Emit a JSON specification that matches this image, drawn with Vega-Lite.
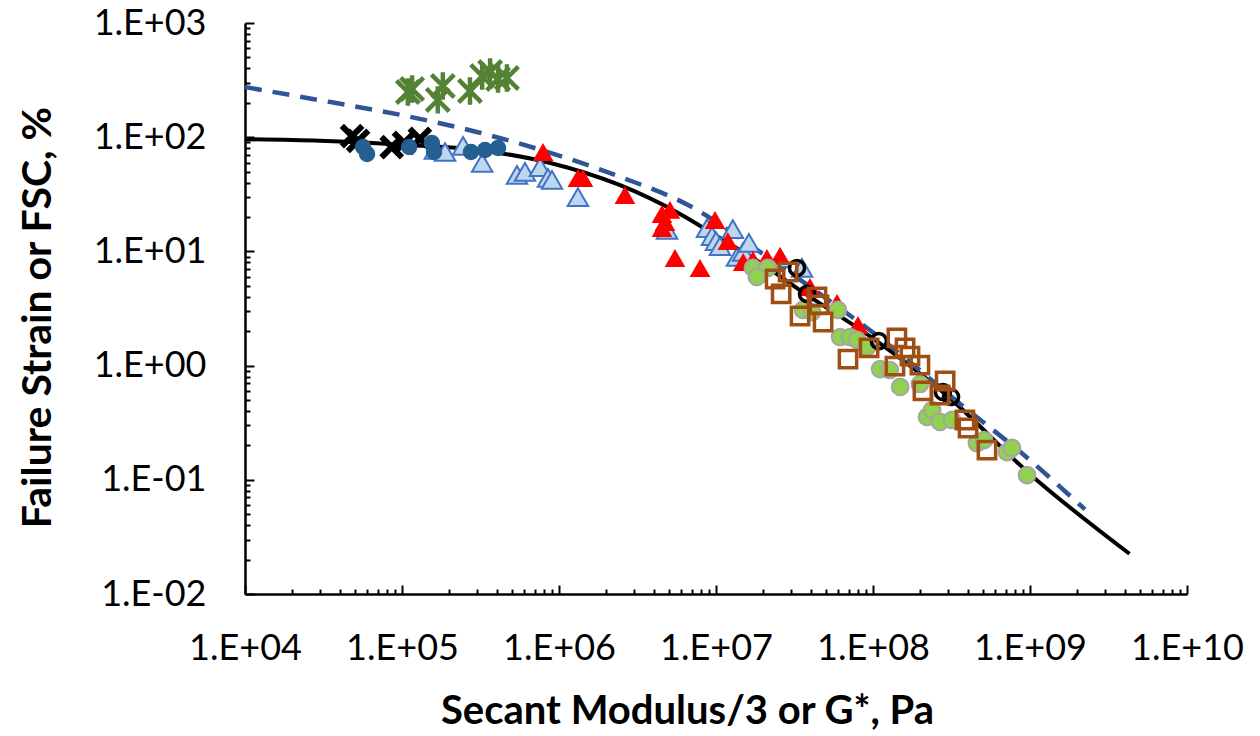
{
  "$schema": "https://vega.github.io/schema/vega-lite/v6.json",
  "width": 942,
  "height": 571,
  "autosize": {"type": "none"},
  "padding": {"left": 245, "top": 23, "right": 73, "bottom": 142},
  "background": "white",
  "config": {"view": {"stroke": null}, "font": "Lato"},
  "datasets": {
    "fit": [
      {"x": 10000, "y": 96}, {"x": 30000, "y": 93}, {"x": 100000, "y": 86}, {"x": 310000, "y": 77},
      {"x": 880000, "y": 59.5}, {"x": 2450000, "y": 38}, {"x": 5900000, "y": 21.3}, {"x": 10600000, "y": 13.1},
      {"x": 19000000, "y": 8.0}, {"x": 34000000, "y": 4.6}, {"x": 103000000, "y": 1.68}, {"x": 290000000, "y": 0.56},
      {"x": 1000000000, "y": 0.112}, {"x": 4300000000, "y": 0.0225}
    ],
    "upper": [
      {"x": 10000, "y": 275}, {"x": 35000, "y": 203}, {"x": 100000, "y": 156}, {"x": 300000, "y": 111},
      {"x": 880000, "y": 73}, {"x": 2450000, "y": 45}, {"x": 7200000, "y": 24}, {"x": 17200000, "y": 10.9},
      {"x": 50000000, "y": 3.9}, {"x": 100000000, "y": 1.95}, {"x": 400000000, "y": 0.41}, {"x": 900000000, "y": 0.168},
      {"x": 2240000000, "y": 0.055}
    ],
    "blackx": [
      {"x": 48100, "y": 102}, {"x": 52500, "y": 92.7}, {"x": 86000, "y": 82}, {"x": 103000, "y": 89}, {"x": 130000, "y": 96.5}
    ],
    "lightblue": [
      {"x": 162000, "y": 77.3}, {"x": 188000, "y": 74.2}, {"x": 245000, "y": 83.8}, {"x": 324000, "y": 59.5},
      {"x": 540000, "y": 46.7}, {"x": 607000, "y": 49.6}, {"x": 757000, "y": 54.8}, {"x": 851000, "y": 44},
      {"x": 902000, "y": 42.2}, {"x": 1320000, "y": 29.9}, {"x": 4880000, "y": 15.4}, {"x": 8770000, "y": 16.0},
      {"x": 9440000, "y": 13.6}, {"x": 10000000, "y": 12.3}, {"x": 10600000, "y": 11.1}, {"x": 12800000, "y": 15.7},
      {"x": 13600000, "y": 8.94}, {"x": 14900000, "y": 9.9}, {"x": 16200000, "y": 11.9}, {"x": 25600000, "y": 8.75},
      {"x": 35300000, "y": 7.16}
    ],
    "darkblue": [
      {"x": 56500, "y": 82}, {"x": 59900, "y": 71.3}, {"x": 111000, "y": 82}, {"x": 155000, "y": 89},
      {"x": 160000, "y": 74.2}, {"x": 275000, "y": 74.2}, {"x": 338000, "y": 77.3}, {"x": 409000, "y": 80.4}
    ],
    "greenstar": [
      {"x": 109000, "y": 249}, {"x": 116000, "y": 264}, {"x": 169000, "y": 212}, {"x": 182000, "y": 281},
      {"x": 271000, "y": 254}, {"x": 324000, "y": 343}, {"x": 364000, "y": 372}, {"x": 409000, "y": 323},
      {"x": 466000, "y": 330}
    ],
    "red": [
      {"x": 791000, "y": 74.2}, {"x": 1320000, "y": 44}, {"x": 1420000, "y": 44}, {"x": 2630000, "y": 31.2},
      {"x": 4530000, "y": 21.3}, {"x": 5090000, "y": 23.1}, {"x": 4730000, "y": 18.1}, {"x": 4530000, "y": 16.0},
      {"x": 5480000, "y": 8.75}, {"x": 7910000, "y": 7.16}, {"x": 9860000, "y": 18.8}, {"x": 11900000, "y": 12.3},
      {"x": 14900000, "y": 8.07}, {"x": 17200000, "y": 8.41}, {"x": 21100000, "y": 8.75}, {"x": 25600000, "y": 9.12},
      {"x": 39700000, "y": 4.88}, {"x": 59000000, "y": 3.53}, {"x": 80200000, "y": 2.27}
    ],
    "greencircle": [
      {"x": 17200000, "y": 7.16}, {"x": 21400000, "y": 7.16}, {"x": 18200000, "y": 5.97}, {"x": 35800000, "y": 3.07},
      {"x": 40900000, "y": 2.94}, {"x": 59800000, "y": 3.07}, {"x": 61700000, "y": 1.78}, {"x": 71400000, "y": 1.78},
      {"x": 79100000, "y": 1.68}, {"x": 91600000, "y": 1.45}, {"x": 111000000, "y": 0.933}, {"x": 128000000, "y": 0.915},
      {"x": 149000000, "y": 0.65}, {"x": 199000000, "y": 0.69}, {"x": 221000000, "y": 0.355}, {"x": 238000000, "y": 0.408},
      {"x": 267000000, "y": 0.321}, {"x": 319000000, "y": 0.334}, {"x": 459000000, "y": 0.21}, {"x": 509000000, "y": 0.223},
      {"x": 714000000, "y": 0.175}, {"x": 768000000, "y": 0.19}, {"x": 957000000, "y": 0.11}
    ],
    "blackcircle": [
      {"x": 32800000, "y": 7.16}, {"x": 38000000, "y": 4.24}, {"x": 109000000, "y": 1.64}, {"x": 279000000, "y": 0.587},
      {"x": 314000000, "y": 0.531}
    ],
    "brownsquare": [
      {"x": 28800000, "y": 6.6}, {"x": 23800000, "y": 5.73}, {"x": 26000000, "y": 4.24}, {"x": 44000000, "y": 3.99},
      {"x": 45300000, "y": 3.4}, {"x": 34300000, "y": 2.72}, {"x": 48100000, "y": 2.41}, {"x": 69300000, "y": 1.14},
      {"x": 94400000, "y": 1.43}, {"x": 142000000, "y": 1.75}, {"x": 160000000, "y": 1.43}, {"x": 172000000, "y": 1.21},
      {"x": 138000000, "y": 0.99}, {"x": 199000000, "y": 1.01}, {"x": 208000000, "y": 0.6}, {"x": 288000000, "y": 0.733},
      {"x": 267000000, "y": 0.553}, {"x": 385000000, "y": 0.334}, {"x": 403000000, "y": 0.284}, {"x": 532000000, "y": 0.182}
    ]
  },
  "encoding": {
    "x": {
      "field": "x", "type": "quantitative",
      "scale": {"type": "log", "domain": [10000, 10000000000], "nice": false},
      "axis": {
        "title": "Secant Modulus/3 or G*, Pa",
        "values": [10000,20000,30000,40000,50000,60000,70000,80000,90000,
                   100000,200000,300000,400000,500000,600000,700000,800000,900000,
                   1000000,2000000,3000000,4000000,5000000,6000000,7000000,8000000,9000000,
                   10000000,20000000,30000000,40000000,50000000,60000000,70000000,80000000,90000000,
                   100000000,200000000,300000000,400000000,500000000,600000000,700000000,800000000,900000000,
                   1000000000,2000000000,3000000000,4000000000,5000000000,6000000000,7000000000,8000000000,9000000000,
                   10000000000],
        "labelExpr": "abs(log(datum.value)/LN10 - round(log(datum.value)/LN10)) < 0.001 ? '1.E' + (round(log(datum.value)/LN10) < 0 ? '-' : '+') + (abs(round(log(datum.value)/LN10)) < 10 ? '0' : '') + abs(round(log(datum.value)/LN10)) : ''",
        "labelFont": "Lato", "labelFontSize": 36, "labelColor": "black",
        "labelPadding": 46, "labelOverlap": false, "labelFlush": false,
        "tickSize": {"condition": {"test": "abs(log(datum.value)/LN10 - round(log(datum.value)/LN10)) < 0.001", "value": -9}, "value": -5},
        "tickColor": "black", "tickWidth": 2,
        "domainColor": "black", "domainWidth": 2.5,
        "grid": false,
        "titleFont": "Lato", "titleFontSize": 40, "titleFontWeight": "bold", "titleColor": "black",
        "titleX": 442, "titleY": 129, "titleBaseline": "alphabetic", "titleAlign": "center"
      }
    },
    "y": {
      "field": "y", "type": "quantitative",
      "scale": {"type": "log", "domain": [0.01, 1000], "nice": false},
      "axis": {
        "title": "Failure Strain or FSC, %",
        "values": [0.01,0.02,0.03,0.04,0.05,0.06,0.07,0.08,0.09,
                   0.1,0.2,0.3,0.4,0.5,0.6,0.7,0.8,0.9,
                   1,2,3,4,5,6,7,8,9,
                   10,20,30,40,50,60,70,80,90,
                   100,200,300,400,500,600,700,800,900,1000],
        "labelExpr": "abs(log(datum.value)/LN10 - round(log(datum.value)/LN10)) < 0.001 ? '1.E' + (round(log(datum.value)/LN10) < 0 ? '-' : '+') + (abs(round(log(datum.value)/LN10)) < 10 ? '0' : '') + abs(round(log(datum.value)/LN10)) : ''",
        "labelFont": "Lato", "labelFontSize": 36, "labelColor": "black",
        "labelPadding": 48, "labelOverlap": false, "labelFlush": false,
        "tickSize": {"condition": {"test": "abs(log(datum.value)/LN10 - round(log(datum.value)/LN10)) < 0.001", "value": -9}, "value": -5},
        "tickColor": "black", "tickWidth": 2,
        "domainColor": "black", "domainWidth": 2.5,
        "grid": false,
        "titleFont": "Lato", "titleFontSize": 41, "titleFontWeight": "bold", "titleColor": "black",
        "titleX": -195, "titleY": 294, "titleAngle": -90, "titleBaseline": "alphabetic", "titleAlign": "center"
      }
    }
  },
  "layer": [
    {"data": {"name": "fit"}, "mark": {"type": "line", "color": "black", "strokeWidth": 4, "interpolate": "monotone"}},
    {"data": {"name": "upper"}, "mark": {"type": "line", "color": "#2F5597", "strokeWidth": 4.5, "strokeDash": [17, 11], "interpolate": "monotone"}},
    {"data": {"name": "blackx"}, "mark": {"type": "point", "shape": "M-1,-1L1,1M1,-1L-1,1", "filled": false, "stroke": "black", "strokeWidth": 6, "size": 420, "opacity": 1}},
    {"data": {"name": "lightblue"}, "mark": {"type": "point", "shape": "triangle-up", "filled": true, "fill": "#BDD7EE", "stroke": "#4472C4", "strokeWidth": 2, "size": 420, "opacity": 1}},
    {"data": {"name": "darkblue"}, "mark": {"type": "point", "shape": "circle", "filled": true, "color": "#255E91", "size": 270, "opacity": 1}},
    {"data": {"name": "greenstar"}, "mark": {"type": "point", "shape": "M-1,-1L1,1M1,-1L-1,1M0,-1.2L0,1.2", "filled": false, "stroke": "#548235", "strokeWidth": 4.5, "size": 520, "opacity": 1}},
    {"data": {"name": "red"}, "mark": {"type": "point", "shape": "triangle-up", "filled": true, "color": "#FF0000", "size": 430, "opacity": 1}},
    {"data": {"name": "greencircle"}, "mark": {"type": "point", "shape": "circle", "filled": true, "fill": "#92D050", "stroke": "#A5A5A5", "strokeWidth": 2, "size": 280, "opacity": 1}},
    {"data": {"name": "blackcircle"}, "mark": {"type": "point", "shape": "circle", "filled": false, "stroke": "black", "strokeWidth": 3.5, "size": 230, "opacity": 1}},
    {"data": {"name": "brownsquare"}, "mark": {"type": "point", "shape": "square", "filled": false, "stroke": "#A04F14", "strokeWidth": 3.5, "size": 300, "opacity": 1}}
  ]
}
